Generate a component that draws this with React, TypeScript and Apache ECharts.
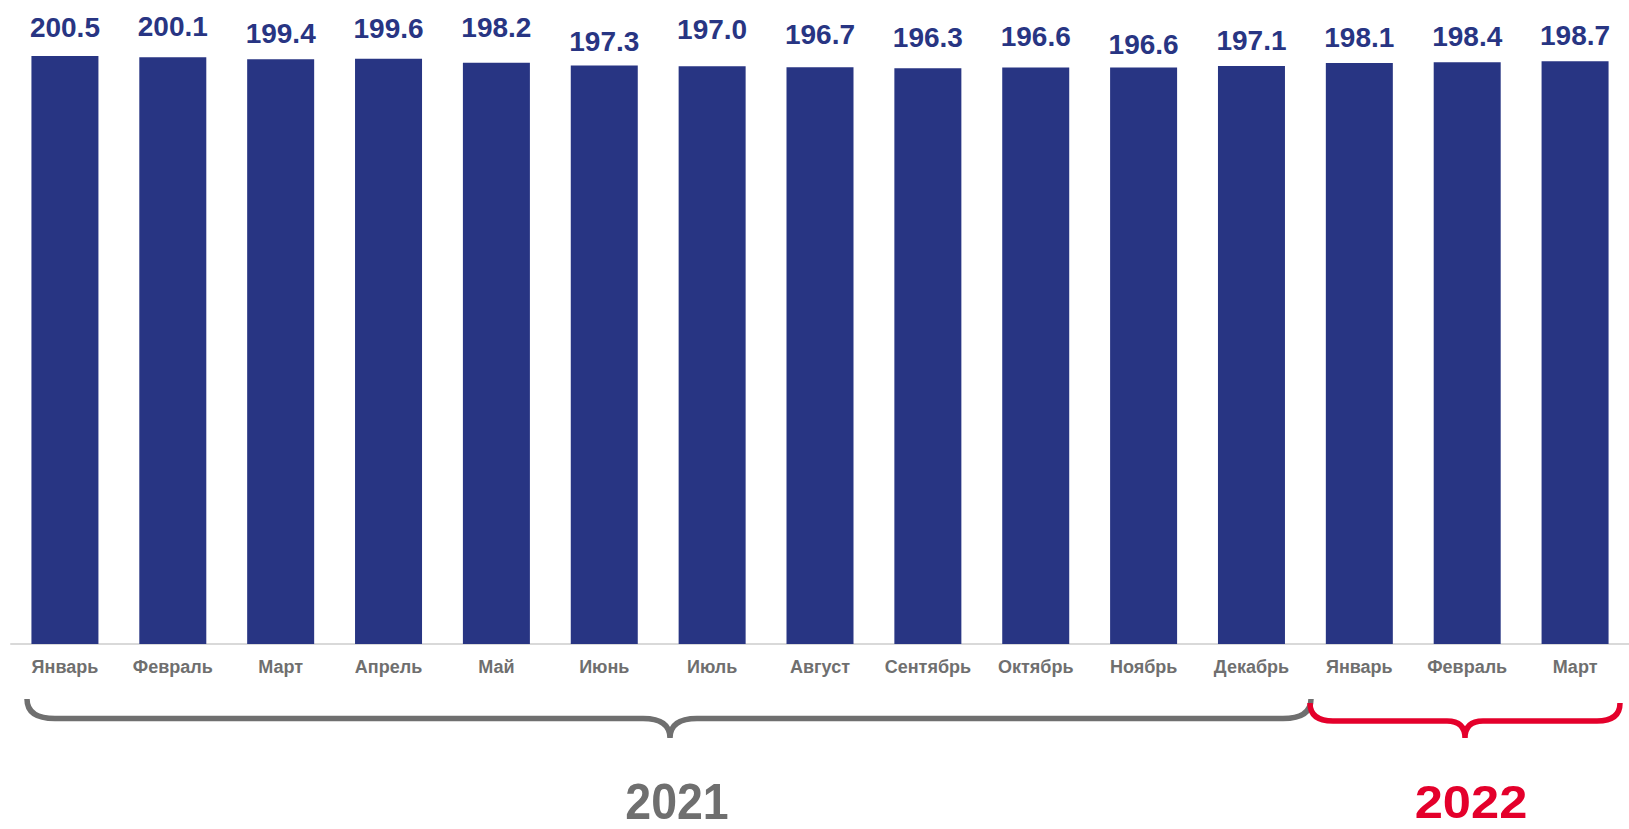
import React, { useEffect, useRef } from "react";
import * as echarts from "echarts";

const months: string[] = [
  "Январь", "Февраль", "Март", "Апрель", "Май", "Июнь", "Июль", "Август",
  "Сентябрь", "Октябрь", "Ноябрь", "Декабрь", "Январь", "Февраль", "Март",
];
const values: number[] = [
  200.5, 200.1, 199.4, 199.6, 198.2, 197.3, 197.0, 196.7, 196.3, 196.6, 196.6, 197.1, 198.1, 198.4, 198.7,
];
const years: string[] = ["2021", "2022"];

// label placement (style only)
const labelDistances: number[] = [15, 17, 12, 16, 21, 10, 23, 19, 17, 17, 9, 11, 12, 12, 12];

const BAR = "#283583";
const GRAY = "#6f6f6f";
const RED = "#e4002b";

function bracePath(x1: number, x2: number, xm: number, yTop: number, yLine: number, yTip: number, rEnd: number, rMid: number): string {
  return [
    `M ${x1} ${yTop}`,
    `Q ${x1} ${yLine} ${x1 + rEnd} ${yLine}`,
    `L ${xm - rMid} ${yLine}`,
    `Q ${xm} ${yLine} ${xm} ${yTip}`,
    `Q ${xm} ${yLine} ${xm + rMid} ${yLine}`,
    `L ${x2 - rEnd} ${yLine}`,
    `Q ${x2} ${yLine} ${x2} ${yTop}`,
  ].join(" ");
}

echarts.graphic.registerShape(
  "braceGray",
  echarts.graphic.extendPath(bracePath(27, 1311, 670, 699, 718.5, 738, 28, 27), {}) as any
);
echarts.graphic.registerShape(
  "braceRed",
  echarts.graphic.extendPath(bracePath(1310, 1620, 1465, 703, 721, 738, 23, 18), {}) as any
);

export default function App() {
  const ref = useRef<HTMLDivElement>(null);
  useEffect(() => {
    if (!ref.current) return;
    const chart = echarts.init(ref.current, undefined, { renderer: "svg" });
    const font = "'Liberation Sans', Arial, sans-serif";
    chart.setOption({
      animation: false,
      backgroundColor: "#ffffff",
      grid: { left: 11, width: 1635, top: 56, bottom: 185, containLabel: false },
      xAxis: {
        type: "category",
        data: months,
        axisLine: { show: true, lineStyle: { color: "#d9d9d9", width: 2 } },
        axisTick: { show: false },
        axisLabel: {
          color: GRAY,
          fontSize: 18,
          fontWeight: "bold",
          fontFamily: font,
          margin: 14,
          interval: 0,
        },
      },
      yAxis: {
        type: "value",
        min: 0,
        max: (v: any) => v.max,
        show: false,
        splitLine: { show: false },
      },
      series: [
        {
          type: "bar",
          barWidth: 67,
          data: values.map((v, i) => ({
            value: v,
            label: { distance: labelDistances[i] },
          })),
          itemStyle: { color: BAR },
          label: {
            show: true,
            position: "top",
            color: BAR,
            fontSize: 28,
            fontWeight: "bold",
            fontFamily: font,
            formatter: (p: any) => Number(p.value).toFixed(1),
          },
        },
      ],
      graphic: [
        {
          type: "braceGray",
          x: 0,
          y: 0,
          style: { fill: "none", stroke: GRAY, lineWidth: 5.5, lineCap: "butt" },
        },
        {
          type: "braceRed",
          x: 0,
          y: 0,
          style: { fill: "none", stroke: RED, lineWidth: 5.5, lineCap: "butt" },
        },
        {
          type: "text",
          x: 677,
          y: 801,
          scaleX: 0.93,
          style: {
            text: years[0],
            fill: GRAY,
            font: `bold 50px ${font}`,
            lineHeight: 40,
            align: "center",
            verticalAlign: "middle",
          },
        },
        {
          type: "text",
          x: 1471,
          y: 802,
          scaleX: 1.1,
          style: {
            text: years[1],
            fill: RED,
            font: `bold 46px ${font}`,
            lineHeight: 40,
            align: "center",
            verticalAlign: "middle",
          },
        },
      ],
    });
    return () => chart.dispose();
  }, []);
  return (
    <div
      ref={ref}
      style={{ position: "absolute", left: 0, top: 0, width: 1629, height: 829 }}
    />
  );
}
